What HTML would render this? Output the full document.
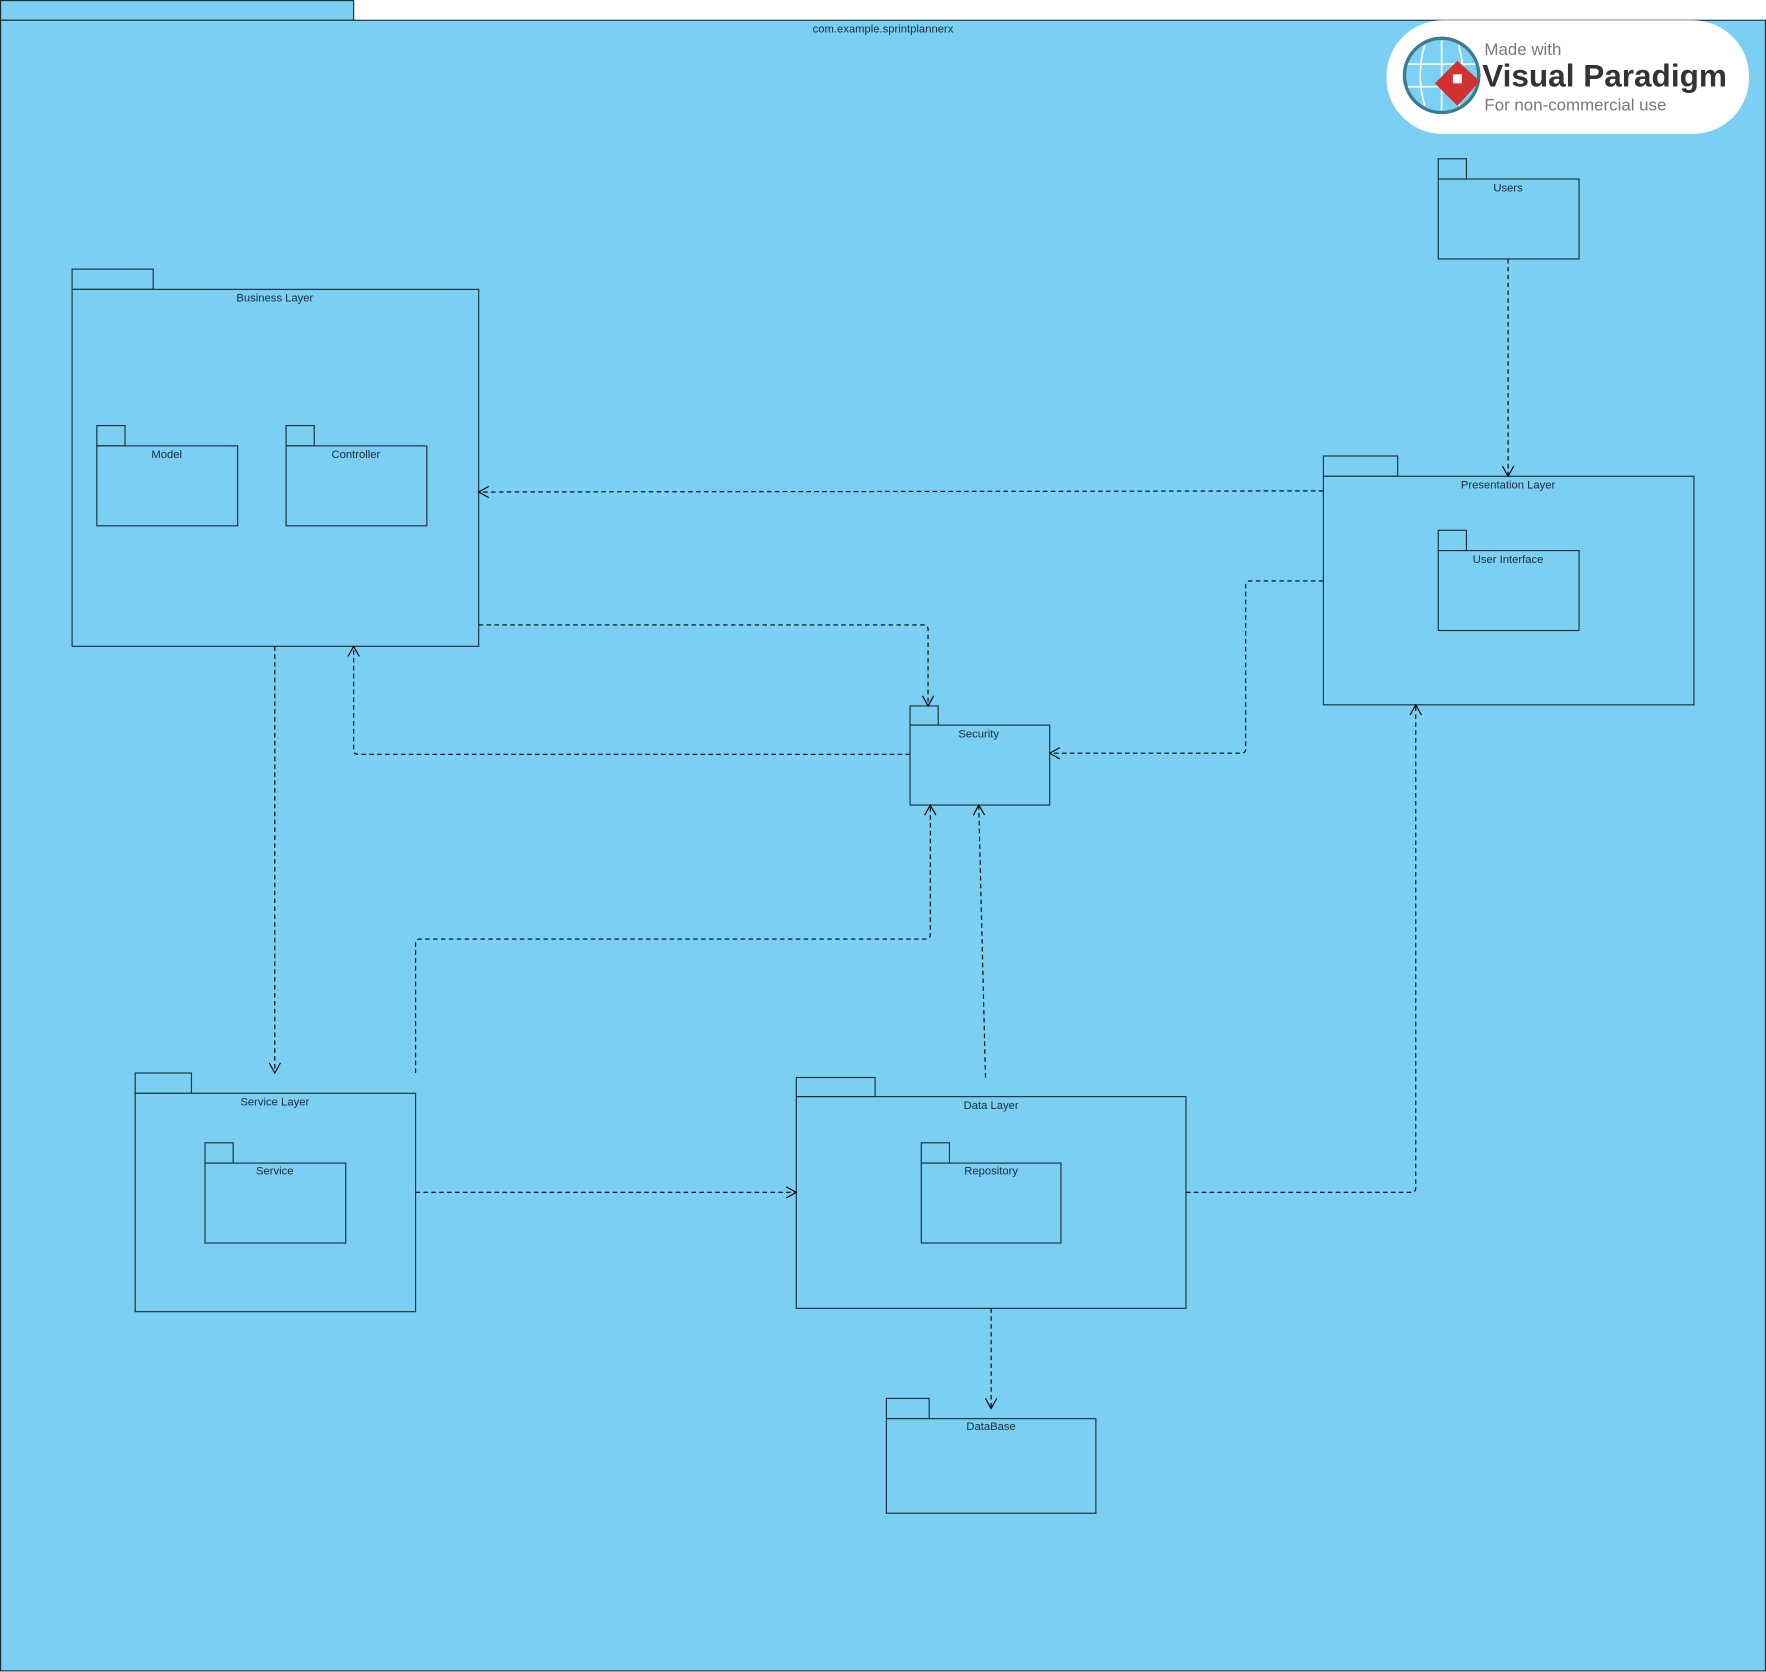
<!DOCTYPE html>
<html><head><meta charset="utf-8"><style>
html,body{margin:0;padding:0;background:#fff;}
svg{display:block;}
text{font-family:"Liberation Sans",sans-serif;font-size:10px;fill:#1a2a3a;}
</style></head><body>
<svg width="1766" height="1672" viewBox="0 0 1568 1485" preserveAspectRatio="none" xmlns="http://www.w3.org/2000/svg">
<defs>
<marker id="a" markerWidth="12" markerHeight="12" refX="10" refY="6" orient="auto" markerUnits="userSpaceOnUse">
<path d="M1,1 L10,6 L1,11" fill="none" stroke="#000" stroke-width="1"/>
</marker>
</defs>
<rect x="0" y="0" width="1568" height="1485" fill="#fff"/>
<g fill="#7acff3" stroke="#1b2b36" stroke-width="1">
<rect x="0.5" y="0.5" width="313.5" height="17.5"/>
<rect x="0.5" y="18" width="1567" height="1466"/>
</g>
<text x="784" y="29" text-anchor="middle">com.example.sprintplannerx</text>

<!-- logo -->
<rect x="1231" y="18" width="322" height="101" rx="50" fill="#fff"/>
<circle cx="1280" cy="67" r="33" fill="#7ad0f5" stroke="#3d7a8a" stroke-width="3"/>
<g stroke="#fff" stroke-width="1.5" fill="none"><path d="M1250 57h60M1250 77h60M1280 36v62M1265 40q-8 27 0 54M1295 40q8 27 0 54"/></g>
<path d="M1294 54l20 18-20 22-20-20z" fill="#d23131"/>
<rect x="1290" y="66" width="8" height="8" fill="#fff"/>
<text x="1318" y="49" style="font-size:15px;fill:#777">Made with</text>
<text x="1316" y="77" style="font-size:28px;font-weight:bold;fill:#333">Visual Paradigm</text>
<text x="1318" y="98" style="font-size:15px;fill:#777">For non-commercial use</text>

<g fill="#7acff3" stroke="#1b2b36" stroke-width="1">
<!-- Business -->
<rect x="64" y="239" width="72" height="18"/><rect x="64" y="257" width="361" height="317"/>
<rect x="86" y="378" width="25" height="18"/><rect x="86" y="396" width="125" height="71"/>
<rect x="254" y="378" width="25" height="18"/><rect x="254" y="396" width="125" height="71"/>
<!-- Users -->
<rect x="1277" y="141" width="25" height="18"/><rect x="1277" y="159" width="125" height="71"/>
<!-- Presentation -->
<rect x="1175" y="405" width="66" height="18"/><rect x="1175" y="423" width="329" height="203"/>
<rect x="1277" y="471" width="25" height="18"/><rect x="1277" y="489" width="125" height="71"/>
<!-- Security -->
<rect x="808" y="627" width="25" height="17"/><rect x="808" y="644" width="124" height="71"/>
<!-- Service layer -->
<rect x="120" y="953" width="50" height="18"/><rect x="120" y="971" width="249" height="194"/>
<rect x="182" y="1015" width="25" height="18"/><rect x="182" y="1033" width="125" height="71"/>
<!-- Data layer -->
<rect x="707" y="957" width="70" height="17"/><rect x="707" y="974" width="346" height="188"/>
<rect x="818" y="1015" width="25" height="18"/><rect x="818" y="1033" width="124" height="71"/>
<!-- DataBase -->
<rect x="787" y="1242" width="38" height="18"/><rect x="787" y="1260" width="186" height="84"/>
</g>
<text x="244" y="268" text-anchor="middle">Business Layer</text>
<text x="148" y="407" text-anchor="middle">Model</text>
<text x="316" y="407" text-anchor="middle">Controller</text>
<text x="1339" y="170" text-anchor="middle">Users</text>
<text x="1339" y="434" text-anchor="middle">Presentation Layer</text>
<text x="1339" y="500" text-anchor="middle">User Interface</text>
<text x="869" y="655" text-anchor="middle">Security</text>
<text x="244" y="982" text-anchor="middle">Service Layer</text>
<text x="244" y="1043" text-anchor="middle">Service</text>
<text x="880" y="985" text-anchor="middle">Data Layer</text>
<text x="880" y="1043" text-anchor="middle">Repository</text>
<text x="880" y="1270" text-anchor="middle">DataBase</text>

<g fill="none" stroke="#000" stroke-width="1" stroke-dasharray="4,3" marker-end="url(#a)">
<path d="M1339 230V423"/>
<path d="M1175 436L425 437"/>
<path d="M425 555H820Q824 555 824 559V627"/>
<path d="M808 670H318Q314 670 314 666V574"/>
<path d="M1175 516H1110Q1106 516 1106 520V665Q1106 669 1102 669H932"/>
<path d="M244 574V953"/>
<path d="M369 953V838Q369 834 373 834H822Q826 834 826 830V715"/>
<path d="M875 957L869 715"/>
<path d="M369 1059H707"/>
<path d="M1053 1059H1253Q1257 1059 1257 1055V626"/>
<path d="M880 1162V1251"/>
</g>
</svg>
</body></html>
